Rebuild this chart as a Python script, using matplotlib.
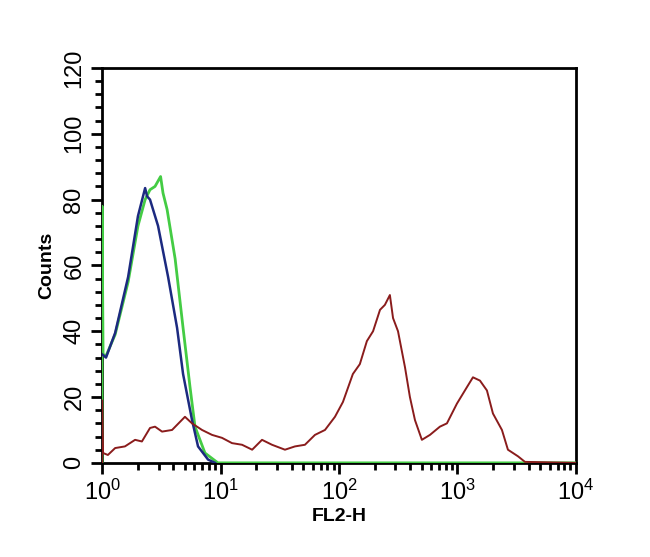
import matplotlib
matplotlib.use("Agg")
import matplotlib.pyplot as plt
from matplotlib.ticker import FixedLocator, MultipleLocator, NullFormatter

# FL2-H channel values and counts
green_x = [1.0, 1.0, 1.02, 1.08, 1.29, 1.66, 2.01, 2.31, 2.54, 2.80, 3.12, 3.27,
           3.54, 4.14, 4.83, 5.53, 6.09, 7.39, 9.50, 10000]
green_y = [0, 78, 33, 32.5, 39, 55, 72, 80, 83, 84, 87, 82,
           77, 62, 41, 23, 11, 3, 0, 0]

blue_x = [1.0, 1.08, 1.29, 1.66, 2.01, 2.31, 2.40, 2.54, 2.97, 3.61, 4.30, 4.83,
          5.75, 6.46, 7.85, 8.99]
blue_y = [33, 32, 39.5, 56.5, 75, 83.5, 81, 80, 72, 56.5, 41, 27,
          13, 5, 1, 0]

red_x = [1.0, 1.0, 1.02, 1.12, 1.29, 1.56, 1.90, 2.17, 2.54, 2.80, 3.21, 3.90,
         5.01, 5.75, 6.98, 8.48, 10.3, 12.5, 15.2, 18.5, 22.4, 27.2, 35.0, 42.5,
         51.6, 62.7, 76.2, 92.5, 108, 131, 150, 172, 194, 222, 244, 269, 286,
         315, 361, 397, 438, 501, 586, 711, 815, 990, 1202, 1352, 1549, 1774,
         1994, 2375, 2668, 3243, 3715, 10000]
red_y = [0, 19, 3, 2.4, 4.5, 5, 7, 6.5, 10.6, 11, 9.5, 10,
         14, 12, 10, 8.5, 7.6, 6, 5.5, 4, 7, 5.5, 4, 5,
         5.5, 8.5, 10, 14, 18.5, 27, 30, 37, 40, 46.5, 48, 51, 44,
         40, 29, 20, 13, 7, 8.5, 11, 12, 18, 23, 26, 25, 22,
         15, 10, 4, 2, 0.3, 0]

x_ticks = [1, 10, 100, 1000, 10000]
x_labels = ["10$^0$", "10$^1$", "10$^2$", "10$^3$", "10$^4$"]
y_ticks = [0, 20, 40, 60, 80, 100, 120]

plt.rcParams['font.family'] = ['Liberation Sans', 'DejaVu Sans']
plt.rcParams['mathtext.default'] = 'regular'

fig = plt.figure(figsize=(6.5, 5.57), dpi=100)
ax = fig.add_axes([0.157, 0.169, 0.729, 0.709])

ax.plot(green_x, green_y, color="#44cc44", lw=2.0, zorder=3)
ax.plot(blue_x, blue_y, color="#1c2a80", lw=1.8, zorder=4)
ax.plot(red_x, red_y, color="#8a1c1c", lw=1.4, zorder=5)

ax.set_xscale('log')
ax.set_xlim(1, 10000)
ax.set_ylim(0, 120)

ax.xaxis.set_major_locator(FixedLocator(x_ticks))
ax.xaxis.set_minor_locator(FixedLocator(
    [m * 10 ** d for d in range(4) for m in range(2, 10)]))
ax.xaxis.set_minor_formatter(NullFormatter())
ax.set_xticklabels(x_labels)

ax.yaxis.set_major_locator(FixedLocator(y_ticks))
ax.yaxis.set_minor_locator(MultipleLocator(4))
ax.set_yticklabels([str(v) for v in y_ticks], rotation=90, va='center')

ax.tick_params(which='major', direction='out', length=8, width=2,
               labelsize=17, colors='black')
ax.tick_params(which='minor', direction='out', length=5, width=2)
ax.tick_params(axis='y', pad=4)
ax.tick_params(axis='x', pad=4)

for side in ['left', 'bottom', 'top', 'right']:
    ax.spines[side].set_linewidth(2)

ax.set_xlabel("FL2-H", fontsize=14, fontweight='bold', labelpad=2)
ax.set_ylabel("Counts", fontsize=14, fontweight='bold', labelpad=6)

plt.savefig("out.png", dpi=100)
